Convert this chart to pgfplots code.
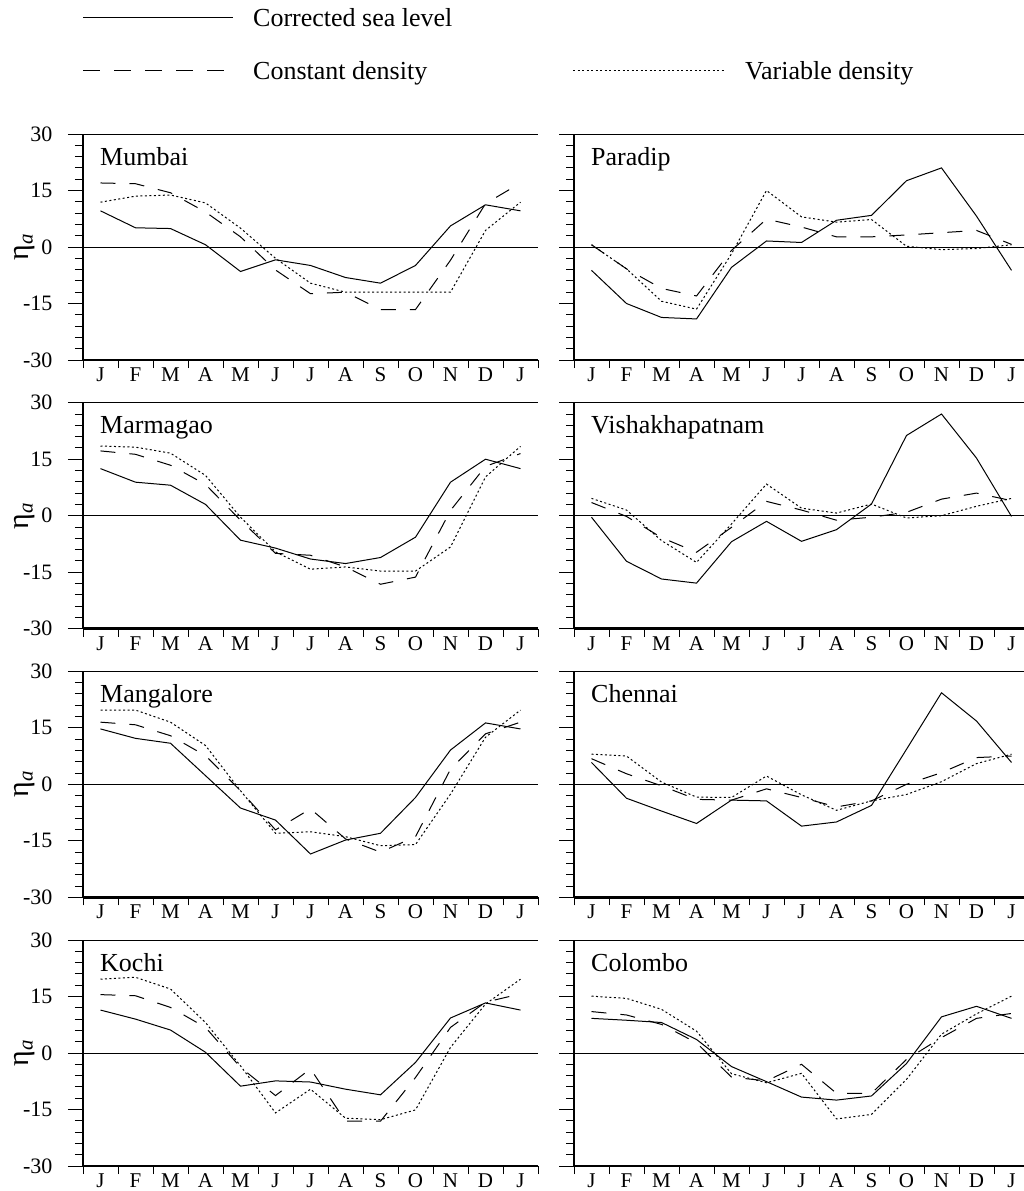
\documentclass[border=0pt]{standalone}
\usepackage{pgfplots}
\usepackage{pgfplotstable}
\pgfplotsset{compat=1.18}
\usepackage{fontspec}
\setmainfont{Liberation Serif}

% Monthly sea-level anomaly (cm): corrected sea level, constant density, variable density
\pgfplotstableread{
m csl cd vd
0 9.6 17.0 11.9
1 5.1 16.8 13.5
2 4.9 14.4 13.8
3 0.6 9.3 11.7
4 -6.5 2.7 5.0
5 -3.4 -6.1 -3.0
6 -4.9 -12.4 -9.6
7 -8.1 -12.0 -12.0
8 -9.6 -16.6 -12.0
9 -4.9 -16.6 -12.0
10 5.6 -3.5 -12.0
11 11.2 11.5 4.4
12 9.6 17.0 11.9
}\mumbai
\pgfplotstableread{
m csl cd vd
0 -6.2 0.6 0.6
1 -15.0 -5.8 -5.8
2 -18.7 -11.0 -14.4
3 -19.1 -13.0 -16.5
4 -5.4 -0.9 -1.8
5 1.6 7.4 15.0
6 1.2 5.3 8.0
7 7.1 2.7 6.6
8 8.4 2.7 7.3
9 17.6 3.2 0.2
10 21.0 3.8 -0.7
11 8.2 4.4 -0.4
12 -6.2 0.7 0.6
}\paradip
\pgfplotstableread{
m csl cd vd
0 12.5 17.2 18.5
1 8.9 16.3 18.2
2 8.1 13.4 16.6
3 3.0 8.3 10.7
4 -6.5 -1.2 -0.4
5 -8.6 -10.0 -9.6
6 -11.5 -10.5 -14.2
7 -12.7 -13.6 -13.6
8 -11.1 -18.2 -14.7
9 -5.7 -16.3 -14.7
10 8.9 1.4 -8.3
11 15.0 13.1 10.3
12 12.5 16.5 18.4
}\marmagao
\pgfplotstableread{
m csl cd vd
0 -0.4 3.5 4.6
1 -12.1 -0.2 1.5
2 -16.8 -5.8 -6.6
3 -17.9 -9.7 -12.4
4 -6.9 -3.1 -2.2
5 -1.5 3.8 8.4
6 -6.8 1.5 2.0
7 -3.7 -1.2 0.7
8 3.1 -0.4 3.1
9 21.3 0.9 -0.6
10 27.0 4.4 0.0
11 15.3 6.0 2.5
12 -0.2 4.0 4.6
}\vishakhapatnam
\pgfplotstableread{
m csl cd vd
0 14.7 16.5 19.7
1 12.2 15.8 19.7
2 10.9 12.9 16.5
3 2.3 7.6 10.3
4 -6.3 -1.7 -1.7
5 -9.5 -12.1 -13.0
6 -18.5 -6.5 -12.6
7 -14.8 -14.5 -13.9
8 -13.0 -18.0 -16.3
9 -3.5 -13.9 -16.0
10 9.1 4.0 -2.6
11 16.3 13.4 12.5
12 14.7 16.5 19.7
}\mangalore
\pgfplotstableread{
m csl cd vd
0 5.8 6.8 8.0
1 -3.7 2.8 7.5
2 -7.1 -0.4 0.6
3 -10.4 -4.0 -3.4
4 -4.2 -4.2 -3.5
5 -4.4 -1.2 2.2
6 -11.1 -3.5 -2.8
7 -10.0 -6.0 -6.9
8 -5.6 -4.4 -4.4
9 9.3 0.0 -2.7
10 24.3 3.1 0.7
11 16.8 7.1 5.5
12 5.8 7.5 8.0
}\chennai
\pgfplotstableread{
m csl cd vd
0 11.4 15.5 19.6
1 9.0 15.2 20.1
2 6.1 12.1 17.0
3 0.2 6.8 8.1
4 -8.8 -3.8 -3.4
5 -7.4 -11.3 -15.9
6 -7.7 -4.2 -9.6
7 -9.6 -18.1 -17.3
8 -11.1 -18.1 -17.7
9 -2.5 -6.5 -15.1
10 9.3 6.8 1.5
11 13.3 13.5 13.0
12 11.4 15.7 19.6
}\kochi
\pgfplotstableread{
m csl cd vd
0 9.2 11.0 15.1
1 8.7 10.1 14.5
2 8.1 7.6 11.6
3 3.6 2.7 5.8
4 -3.6 -6.4 -5.5
5 -7.6 -7.4 -7.9
6 -11.7 -3.0 -5.4
7 -12.5 -10.7 -17.5
8 -11.4 -10.7 -16.3
9 -2.8 -1.7 -7.0
10 9.6 4.1 5.0
11 12.4 9.2 10.4
12 9.2 10.5 15.1
}\colombo

\pgfplotsset{
  panel/.style={
    scale only axis, width=455pt, height=226pt,
    xmin=-0.5, xmax=12.5, ymin=-30, ymax=30,
    axis x line*=bottom, axis y line*=left,
    axis line style={-, line width=2.5pt},
    xtick={0,...,12}, xticklabels={J,F,M,A,M,J,J,A,S,O,N,D,J},
    major x tick style={draw=none},
    minor xtick={-0.5,0.5,...,12.5},
    ytick={-30,-15,0,15,30},
    minor ytick={-27,-24,...,27},
    tick align=outside,
    major tick length=15pt, minor tick length=8pt,
    every tick/.append style={black, line width=1pt},
    xticklabel style={font=\fontsize{21}{25}\selectfont, text height=14pt,
      text depth=0pt, yshift=11pt},
    yticklabel style={font=\fontsize{22}{26}\selectfont, anchor=east, xshift=-12pt},
    clip=false, anchor=south west,
  },
  leftpanel/.style={panel, yticklabels={-30,-15,0,15,30}},
  rightpanel/.style={panel, yticklabels={}},
  csl/.style={black, line width=1pt},
  cd/.style={black, line width=1pt, dash pattern=on 15pt off 14pt},
  vd/.style={black, line width=1pt, dash pattern=on 2pt off 2.5pt},
}

% Frame line on top, zero line, station name, and the three series
\newcommand{\station}[2]{%
  \draw[line width=0.8pt] (rel axis cs:0,1) -- (rel axis cs:1,1);
  \draw[line width=0.8pt] (axis cs:-0.5,0) -- (axis cs:12.5,0);
  \node[anchor=base west, font=\fontsize{26}{30}\selectfont, inner sep=0pt]
    at ([xshift=17pt,yshift=-31pt]rel axis cs:0,1) {#1};
  \addplot[csl] table[x=m,y=csl]{#2};
  \addplot[cd] table[x=m,y=cd]{#2};
  \addplot[vd] table[x=m,y=vd]{#2};
}
% Vertical axis title of the left column
\newcommand{\etalabel}{%
  \node[rotate=90, font=\fontsize{30}{34}\selectfont, inner sep=0pt]
    at ([xshift=-58pt]rel axis cs:0,0.5) {η\textsubscript{\itshape a}};
}

\begin{document}
\begin{tikzpicture}
\useasboundingbox (0pt,0pt) rectangle (1023pt,-1191pt);

% legend
\draw[line width=1pt] (83pt,-17pt) -- (233pt,-17pt);
\node[anchor=base west, font=\fontsize{26}{30}\selectfont, inner sep=0pt] at (253pt,-26pt) {Corrected sea level};
\draw[line width=1pt, dash pattern=on 17pt off 14pt] (83pt,-70pt) -- (233pt,-70pt);
\node[anchor=base west, font=\fontsize{26}{30}\selectfont, inner sep=0pt] at (253pt,-79pt) {Constant density};
\draw[line width=1pt, dash pattern=on 2pt off 2.5pt] (573pt,-70pt) -- (725pt,-70pt);
\node[anchor=base west, font=\fontsize{26}{30}\selectfont, inner sep=0pt] at (745pt,-79pt) {Variable density};

\begin{axis}[leftpanel, at={(83pt,-360pt)}]
\station{Mumbai}{\mumbai}
\etalabel
\end{axis}
\begin{axis}[rightpanel, at={(574pt,-360pt)}]
\station{Paradip}{\paradip}
\end{axis}

\begin{axis}[leftpanel, at={(83pt,-628.7pt)}]
\station{Marmagao}{\marmagao}
\etalabel
\end{axis}
\begin{axis}[rightpanel, at={(574pt,-628.7pt)}]
\station{Vishakhapatnam}{\vishakhapatnam}
\end{axis}

\begin{axis}[leftpanel, at={(83pt,-897.3pt)}]
\station{Mangalore}{\mangalore}
\etalabel
\end{axis}
\begin{axis}[rightpanel, at={(574pt,-897.3pt)}]
\station{Chennai}{\chennai}
\end{axis}

\begin{axis}[leftpanel, at={(83pt,-1166pt)}]
\station{Kochi}{\kochi}
\etalabel
\end{axis}
\begin{axis}[rightpanel, at={(574pt,-1166pt)}]
\station{Colombo}{\colombo}
\end{axis}
\end{tikzpicture}
\end{document}
